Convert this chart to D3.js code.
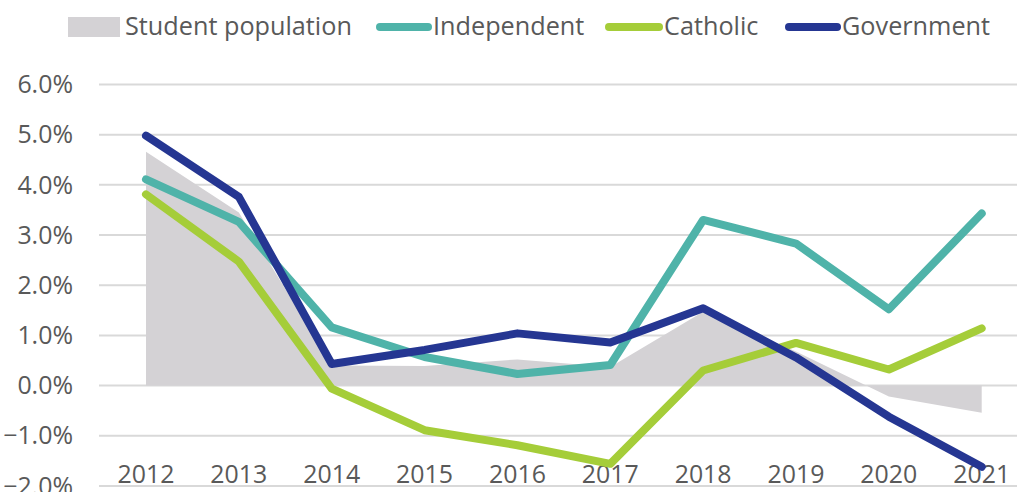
<!DOCTYPE html>
<html><head><meta charset="utf-8">
<script src="https://cdn.jsdelivr.net/npm/d3@7"></script>
<style>body{margin:0;background:#fff;}svg{display:block;font-family:"Open Sans",sans-serif;}</style>
</head><body><svg id="c" width="1017" height="492"></svg>
<script>
const years = ["2012","2013","2014","2015","2016","2017","2018","2019","2020","2021"];
const studentPopulation = [4.66,3.45,0.40,0.39,0.52,0.37,1.47,0.68,-0.22,-0.54];
const independent = [4.11,3.26,1.16,0.57,0.23,0.41,3.30,2.83,1.52,3.43];
const catholic = [3.81,2.47,-0.06,-0.89,-1.19,-1.56,0.30,0.85,0.32,1.14];
const government = [4.98,3.76,0.43,0.71,1.04,0.86,1.54,0.56,-0.62,-1.62];
const yTicks = [-2,-1,0,1,2,3,4,5,6];
const seriesNames = ["Student population","Independent","Catholic","Government"];
const colors = {"Student population":"#D4D2D5","Independent":"#4FB3A9","Catholic":"#A5CD39","Government":"#253692"};

const svg = d3.select("#c");
const x = d3.scalePoint().domain(years).range([146,981.7]);
const y = d3.scaleLinear().domain([-2,6]).range([485.9,84.5]);
const textCol = "#595959";

// fit font size to a target width
function fit(sel, target, base){
  const w = sel.node().getComputedTextLength();
  sel.attr("font-size", base*target/w);
}

svg.append("g").selectAll("line").data(yTicks).join("line")
  .attr("x1",99).attr("x2",1017)
  .attr("y1",d=>y(d)).attr("y2",d=>y(d))
  .attr("stroke","#D9D9D9").attr("stroke-width",2);

const area = d3.area().x((d,i)=>x(years[i])).y0(y(0)).y1(d=>y(d));
svg.append("path").datum(studentPopulation).attr("d",area).attr("fill",colors["Student population"]);

// measure tick font size
const probe = svg.append("text").attr("font-size",22).text("2012");
const tw = probe.node().getComputedTextLength();
const tickSize = 22*57/tw;
probe.remove();

svg.append("g").selectAll("text").data(yTicks).join("text")
  .attr("x",73).attr("y",d=>y(d)).attr("dy","0.35em").attr("text-anchor","end")
  .attr("fill",textCol).attr("font-size",tickSize).text(d=>d3.format(".1f")(d)+"%");

svg.append("g").selectAll("text").data(years).join("text")
  .attr("x",d=>x(d)).attr("y",483).attr("text-anchor","middle")
  .attr("fill",textCol).attr("font-size",tickSize).text(d=>d);

const line = d3.line().x((d,i)=>x(years[i])).y(d=>y(d));
[["Independent",independent],["Catholic",catholic],["Government",government]].forEach(([n,v])=>{
  svg.append("path").datum(v).attr("d",line).attr("fill","none")
    .attr("stroke",colors[n]).attr("stroke-width",8)
    .attr("stroke-linecap","round").attr("stroke-linejoin","round");
});

const lg = svg.append("g");
lg.append("rect").attr("x",68).attr("y",17).attr("width",52).attr("height",20).attr("fill",colors["Student population"]);
const t0 = lg.append("text").attr("x",125).attr("y",35).attr("fill",textCol).attr("font-size",22).text("Student population");
fit(t0,227,22);
const legItems = [["Independent",376,433],["Catholic",605,664],["Government",785,842]];
legItems.forEach(([n,x0,tx])=>{
  lg.append("line").attr("x1",x0+4).attr("x2",tx-5).attr("y1",27).attr("y2",27)
    .attr("stroke",colors[n]).attr("stroke-width",8).attr("stroke-linecap","round");
  lg.append("text").attr("x",tx).attr("y",35).attr("fill",textCol).attr("font-size",t0.attr("font-size")).text(n);
});
</script></body></html>
